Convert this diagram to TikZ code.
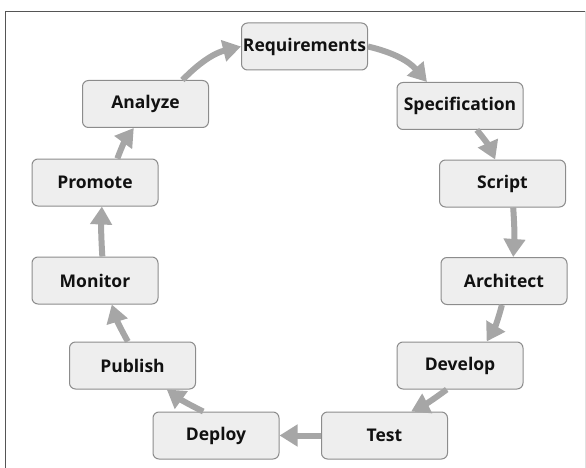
\documentclass[tikz,border=0pt]{standalone}
\usepackage{fontspec}
\setmainfont{Open Sans}
\usetikzlibrary{arrows.meta}
\definecolor{boxfill}{HTML}{EEEEEE}
\definecolor{boxline}{HTML}{8C8C8C}
\definecolor{flow}{HTML}{A6A6A6}
\definecolor{frameline}{HTML}{555555}
\definecolor{inktext}{HTML}{111111}
\tikzset{
  stage/.style={draw=boxline, line width=1pt, fill=boxfill, rounded corners=6pt,
    minimum width=126pt, minimum height=47pt, inner sep=0pt, text=inktext,
    font=\fontsize{17.5}{20}\selectfont\bfseries},
  flowarrow/.style={draw=flow, line width=6pt,
    -{Triangle[length=18pt,width=21pt]}}
}
\begin{document}
\begin{tikzpicture}[x=1pt, y=-1pt]
  \useasboundingbox (0,0) rectangle (586,468);
  % frame
  \draw[frameline, line width=1.3pt] (5.5,468) -- (5.5,11.5) -- (586,11.5);
  \draw[black!12, line width=0.8pt] (585,11.5) -- (585,468);

  % stages of the cycle
  \node[stage] (req)  at (304.5, 46.5) {Requirements};
  \node[stage] (spec) at (460, 106)   {Specification};
  \node[stage] (scr)  at (502.5,183.5) {Script};
  \node[stage] (arch) at (504, 281)   {Architect};
  \node[stage] (dev)  at (460, 365.5) {Develop};
  \node[stage] (test) at (384.5,435.5) {Test};
  \node[stage] (dep)  at (216, 435.5) {Deploy};
  \node[stage] (pub)  at (132.5,365.5) {Publish};
  \node[stage] (mon)  at (95, 280.5)  {Monitor};
  \node[stage] (prom) at (95, 182.5)  {Promote};
  \node[stage] (ana)  at (145.5, 104) {Analyze};

  % clockwise flow between stages
  \draw[flowarrow] (req.east)  to[bend left=18] (spec.144);
  \draw[flowarrow] (spec.-55)  to[bend left=8]  (scr.107);
  \draw[flowarrow] (scr.-66)   to[bend left=4]  (arch.69);
  \draw[flowarrow] (arch.-95)  to[bend left=8]  (dev.42);
  \draw[flowarrow] (dev.-119)  to[bend left=5]  (test.42);
  \draw[flowarrow] (test.west) -- (dep.east);
  \draw[flowarrow] (dep.118)   to[bend left=5]  (pub.-35);
  \draw[flowarrow] (pub.101)   to[bend left=6]  (mon.-55);
  \draw[flowarrow] (mon.73)    to[bend left=3]  (prom.-74);
  \draw[flowarrow] (prom.47)   to[bend left=8]  (ana.-116);
  \draw[flowarrow] (ana.33)    to[bend left=16] (req.west);
\end{tikzpicture}
\end{document}
